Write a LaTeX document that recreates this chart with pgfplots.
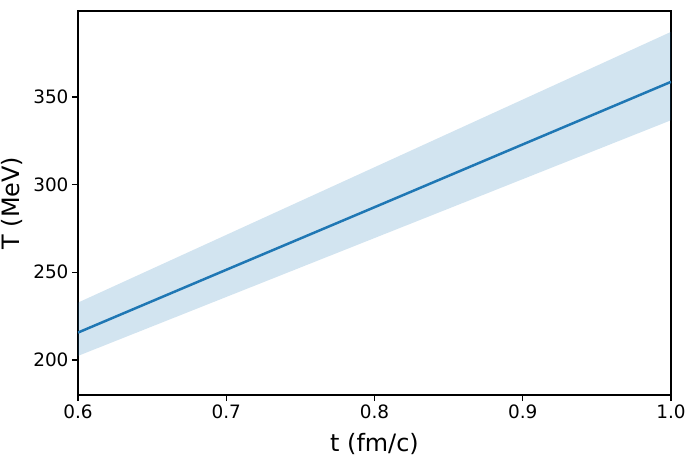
\documentclass[border=0pt]{standalone}
\usepackage{pgfplots}
\pgfplotsset{compat=1.18}
\usepackage{fontspec}
\setmainfont{DejaVu Sans}
\definecolor{cZero}{HTML}{1F77B4}
\begin{document}
\begin{tikzpicture}
\useasboundingbox (-78bp,-63bp) rectangle (607bp,395bp);
\begin{axis}[
  at={(0,0)}, anchor=south west,
  scale only axis,
  width=593bp, height=384bp,
  xmin=0.6, xmax=1.0, ymin=180, ymax=399,
  xtick={0.6,0.7,0.8,0.9,1.0},
  xticklabels={0.6,0.7,0.8,0.9,1.0},
  ytick={200,250,300,350},
  tick align=outside,
  tick pos=left,
  major tick length=6bp,
  axis line style={line width=1.2bp},
  every tick/.style={line width=1.2bp, black},
  tick label style={font=\fontsize{18.5}{20}\selectfont},
  /pgf/number format/assume math mode=true,
  xlabel={t (fm/c)}, ylabel={T (MeV)},
  label style={font=\fontsize{24}{26}\selectfont},
  xlabel style={at={(axis description cs:0.5,-0.128)}, anchor=center},
  ylabel style={at={(axis description cs:-0.111,0.5)}, anchor=center, rotate=0},
  clip=true,
]
\addplot[draw=none, fill=cZero, fill opacity=0.2] coordinates {
  (0.6,232.7) (0.8,309.9) (1.0,387.1) (1.0,336.7) (0.8,269.5) (0.6,202.3)
} -- cycle;
\addplot[cZero, line width=2.5bp] coordinates {
  (0.6,215.6) (0.7,251.4) (0.8,287.1) (0.9,322.9) (1.0,358.6)
};
\end{axis}
\end{tikzpicture}
\end{document}
